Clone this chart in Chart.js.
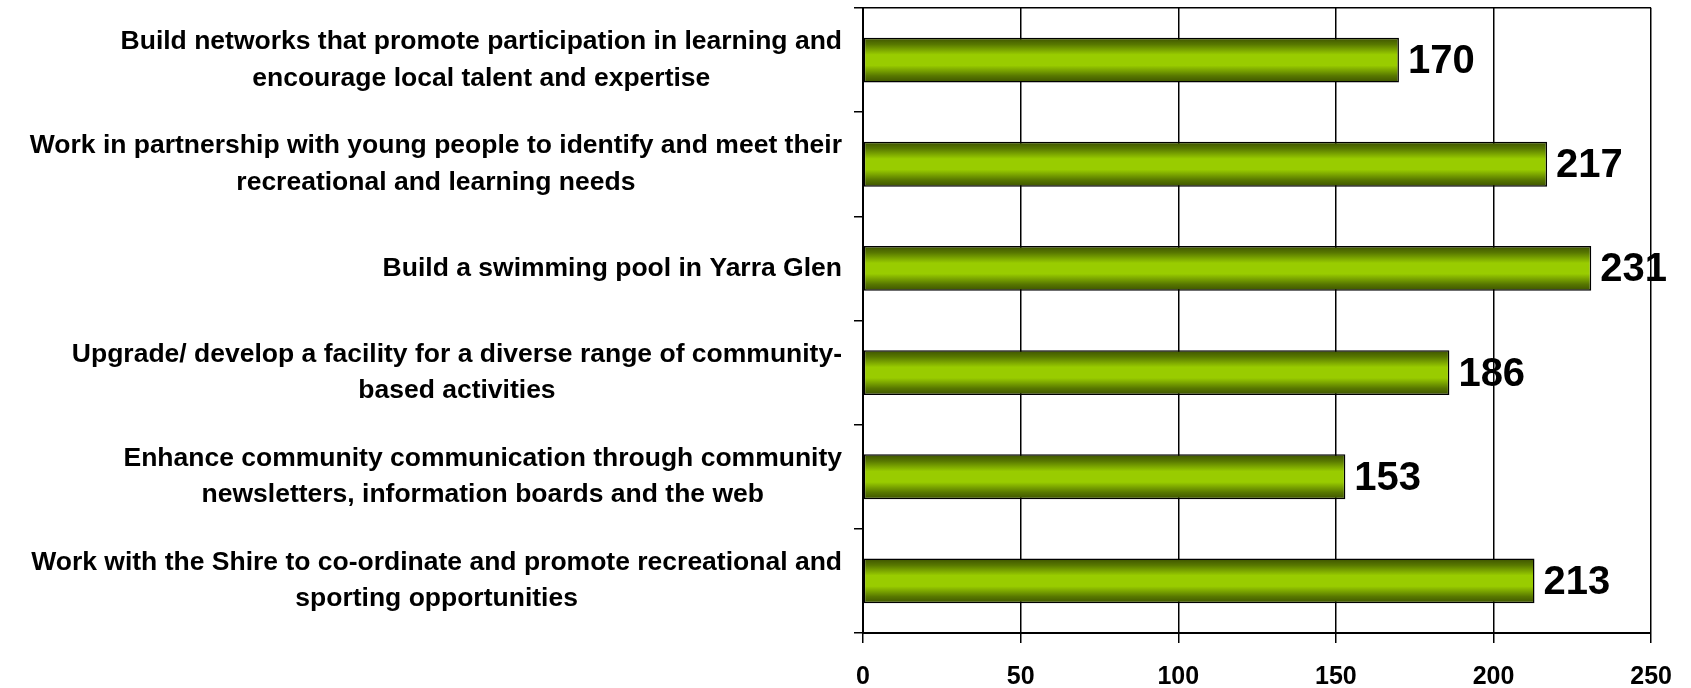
<!DOCTYPE html>
<html lang="en">
<head>
<meta charset="UTF-8">
<title>Prioridades da comunidade</title>
<script src="https://cdn.jsdelivr.net/npm/chart.js@4.4.1/dist/chart.umd.min.js"></script>
<style>
    html, body { margin: 0; padding: 0; background: #fff; }
    #wrap { width: 1691px; height: 688px; }
</style>
</head>
<body>
<div id="wrap"><canvas id="grafico"></canvas></div>
<script>
    // dados
    const categorias = [
        ['Build networks that promote participation in learning and', 'encourage local talent and expertise'],
        ['Work in partnership with young people to identify and meet their', 'recreational and learning needs'],
        ['Build a swimming pool in Yarra Glen'],
        ['Upgrade/ develop a facility for a diverse range of community-', 'based activities'],
        ['Enhance community communication through community', 'newsletters, information boards and the web'],
        ['Work with the Shire to co-ordinate and promote recreational and', 'sporting opportunities']
    ];
    const valores = [170, 217, 231, 186, 153, 213];
    const ticksX = [0, 50, 100, 150, 200, 250];

    const fonte = '"Liberation Sans", Arial, sans-serif';
    const larguraBarra = 0.43;

    function gradienteBarra(context) {
        const chart = context.chart;
        const ys = chart.scales.y;
        if (!ys || context.dataIndex === undefined) return '#99cc00';
        const cy = ys.getPixelForValue(context.dataIndex);
        const meia = (ys.height / categorias.length) * larguraBarra / 2;
        if (!isFinite(cy) || !isFinite(meia) || meia <= 0) return '#99cc00';
        const g = chart.ctx.createLinearGradient(0, cy - meia, 0, cy + meia);
        g.addColorStop(0, '#3d5200');
        g.addColorStop(0.15, '#587800');
        g.addColorStop(0.38, '#99cc00');
        g.addColorStop(0.62, '#99cc00');
        g.addColorStop(0.85, '#587800');
        g.addColorStop(1, '#3d5200');
        return g;
    }

    // rotulos das categorias (linhas centralizadas, bloco alinhado a direita) e valores
    const rotulosPlugin = {
        id: 'rotulos',
        afterDraw(chart) {
            const ctx = chart.ctx;
            const ys = chart.scales.y;
            const borda = chart.chartArea.left - 21;
            ctx.save();
            ctx.fillStyle = '#000';
            ctx.textBaseline = 'middle';
            ctx.textAlign = 'center';
            ctx.font = 'bold 26.5px ' + fonte;
            categorias.forEach((linhas, i) => {
                const cy = ys.getPixelForValue(i);
                const larg = Math.max(...linhas.map(l => ctx.measureText(l).width));
                const cx = borda - larg / 2;
                linhas.forEach((l, k) => {
                    ctx.fillText(l, cx, cy + (k - (linhas.length - 1) / 2) * 36.5);
                });
            });

            ctx.textAlign = 'left';
            ctx.font = 'bold 40px ' + fonte;
            const meta = chart.getDatasetMeta(0);
            meta.data.forEach((bar, i) => {
                ctx.fillText(String(valores[i]), bar.x + 9, bar.y + 2);
            });
            ctx.restore();
        }
    };

    const dados = {
        labels: categorias.map(l => l.join(' ')),
        datasets: [{
            data: valores,
            backgroundColor: gradienteBarra,
            borderColor: '#000',
            borderWidth: 1.5,
            borderSkipped: false,
            categoryPercentage: 1,
            barPercentage: larguraBarra
        }]
    };

    const config = {
        type: 'bar',
        data: dados,
        options: {
            indexAxis: 'y',
            responsive: true,
            maintainAspectRatio: false,
            animation: false,
            layout: { padding: { top: 8, right: 35, bottom: 0, left: 0 } },
            plugins: {
                legend: { display: false },
                tooltip: { enabled: false }
            },
            scales: {
                x: {
                    min: 0,
                    max: 250,
                    afterBuildTicks: s => { s.ticks = ticksX.map(v => ({ value: v })); },
                    afterFit: s => { s.height = 55; },
                    grid: { color: '#000', lineWidth: 1.5, tickLength: 10, tickColor: '#000' },
                    border: { color: '#000', width: 2 },
                    ticks: {
                        color: '#000',
                        padding: 19,
                        font: { family: fonte, size: 25, weight: 'bold' }
                    }
                },
                y: {
                    afterFit: s => { s.width = 863; },
                    grid: {
                        color: c => (c.index === 0 || c.index === categorias.length) ? '#000' : 'transparent',
                        lineWidth: 1.5,
                        tickLength: 9,
                        tickColor: '#000'
                    },
                    border: { color: '#000', width: 2 },
                    ticks: { display: false }
                }
            }
        },
        plugins: [rotulosPlugin]
    };

    new Chart(document.getElementById('grafico'), config);
</script>
</body>
</html>
